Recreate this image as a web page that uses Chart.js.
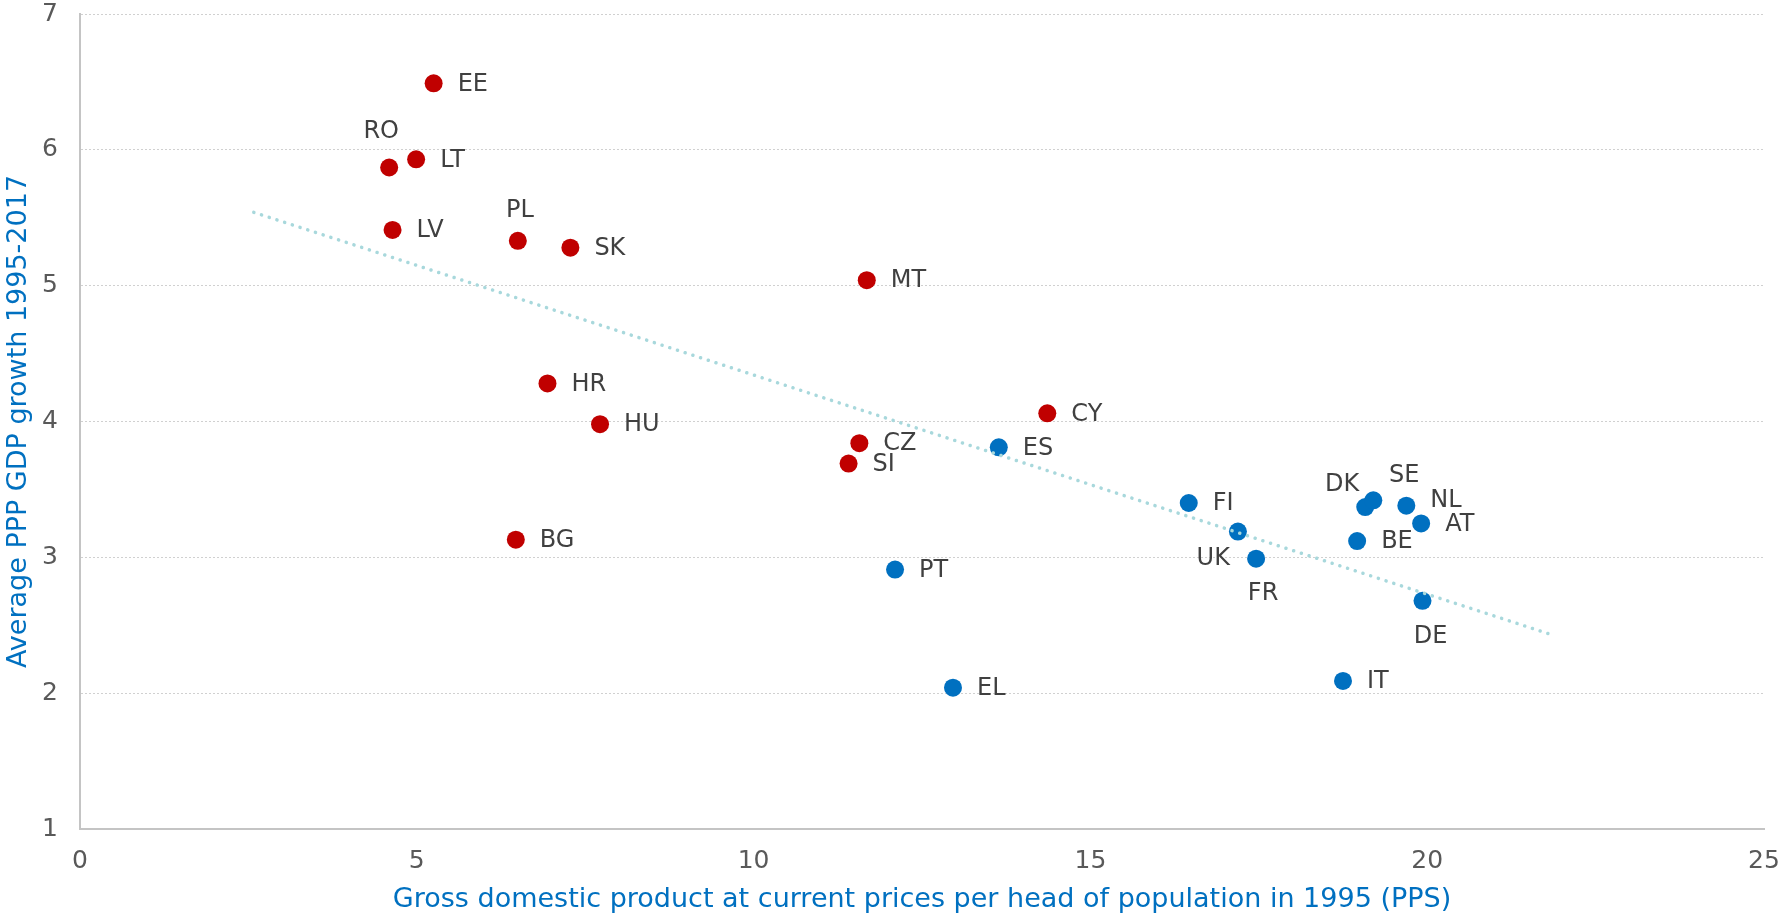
<!DOCTYPE html>
<html>
<head>
<meta charset="utf-8">
<script src="https://cdn.jsdelivr.net/npm/chart.js@4.4.1/dist/chart.umd.min.js"></script>
<style>
  html, body { margin: 0; padding: 0; background: #fff; }
  #wrap { width: 1781px; height: 918px; position: relative; }
</style>
</head>
<body>
<div id="wrap"><canvas id="chart"></canvas></div>
<script>
// 1995 GDP per head (PPS, thousands) vs average PPP GDP growth 1995-2017
const redCodes = ['EE', 'RO', 'LT', 'LV', 'PL', 'SK', 'MT', 'HR', 'HU', 'CZ', 'SI', 'BG', 'CY'];
const redX = [5.25, 4.59, 4.99, 4.64, 6.50, 7.28, 11.68, 6.94, 7.72, 11.57, 11.41, 6.47, 14.36];
const redY = [6.49, 5.87, 5.93, 5.41, 5.33, 5.28, 5.04, 4.28, 3.98, 3.84, 3.69, 3.13, 4.06];

const blueCodes = ['ES', 'PT', 'EL', 'FI', 'UK', 'FR', 'DK', 'SE', 'NL', 'AT', 'BE', 'DE', 'IT'];
const blueX = [13.64, 12.10, 12.96, 16.46, 17.19, 17.46, 19.08, 19.20, 19.69, 19.91, 18.96, 19.93, 18.75];
const blueY = [3.81, 2.91, 2.04, 3.40, 3.19, 2.99, 3.37, 3.42, 3.38, 3.25, 3.12, 2.68, 2.09];

// linear trend line end points
const trendX = [2.58, 21.85];
const trendY = [5.54, 2.43];

const xTitle = 'Gross domestic product at current prices per head of population in 1995 (PPS)';
const yTitle = 'Average PPP GDP growth 1995-2017';

// label placement: [dx, dy, align], default is right of the point
const defaultPlace = [24, 1, 'left'];
const labelPlace = {
    RO: [-8, -36, 'center'],
    PL: [2, -30, 'center'],
    UK: [-8, 27, 'right'],
    FR: [7, 35, 'center'],
    DK: [-23, -22, 'center'],
    SE: [31, -25, 'center'],
    NL: [24, -5, 'left'],
    DE: [8, 36, 'center']
};

const FONT = '"DejaVu Sans", Verdana, sans-serif';

function toPoints(xs, ys) {
    return xs.map((x, i) => ({ x: x, y: ys[i] }));
}

const pointLabels = {
    id: 'pointLabels',
    afterDatasetsDraw(chart) {
        const ctx = chart.ctx;
        ctx.save();
        ctx.font = '24px ' + FONT;
        ctx.fillStyle = '#404040';
        ctx.textBaseline = 'middle';
        chart.data.datasets.forEach((ds, i) => {
            if (!ds.codes) return;
            const meta = chart.getDatasetMeta(i);
            meta.data.forEach((pt, j) => {
                const code = ds.codes[j];
                const p = labelPlace[code] || defaultPlace;
                ctx.textAlign = p[2];
                ctx.fillText(code, pt.x + p[0], pt.y + p[1]);
            });
        });
        ctx.restore();
    }
};

const ctx = document.getElementById('chart').getContext('2d');
new Chart(ctx, {
    type: 'scatter',
    data: {
        datasets: [
            {
                label: 'Trend',
                type: 'line',
                data: toPoints(trendX, trendY),
                borderColor: '#a8d8dc',
                borderWidth: 3.5,
                borderDash: [0.1, 8],
                borderCapStyle: 'round',
                pointRadius: 0,
                fill: false,
                order: 0
            },
            {
                label: 'New',
                codes: redCodes,
                data: toPoints(redX, redY),
                backgroundColor: '#c00000',
                borderWidth: 0,
                pointRadius: 9,
                order: 1
            },
            {
                label: 'Old',
                codes: blueCodes,
                data: toPoints(blueX, blueY),
                backgroundColor: '#0070c0',
                borderWidth: 0,
                pointRadius: 9,
                order: 1
            }
        ]
    },
    options: {
        responsive: true,
        maintainAspectRatio: false,
        animation: false,
        layout: { padding: 0 },
        scales: {
            x: {
                type: 'linear',
                min: 0,
                max: 25,
                ticks: { stepSize: 5, color: '#595959', font: { family: FONT, size: 25 }, padding: 17 },
                grid: { drawOnChartArea: false, drawTicks: false },
                border: { display: true, color: '#c4c4c4', width: 2 },
                title: {
                    display: true,
                    text: xTitle,
                    color: '#0070c0',
                    font: { family: FONT, size: 27 },
                    padding: { top: 2, bottom: 2 }
                },
                afterFit(scale) {
                    scale.height = 89;
                    scale.paddingRight = 17;
                    scale.paddingLeft = 0;
                }
            },
            y: {
                min: 1,
                max: 7,
                ticks: { stepSize: 1, color: '#595959', font: { family: FONT, size: 25 }, padding: 22 },
                grid: { color: '#d0d0d0', lineWidth: 1, drawTicks: false },
                border: { display: true, color: '#c4c4c4', width: 2, dash: [2, 2] },
                title: {
                    display: true,
                    text: yTitle,
                    color: '#0070c0',
                    font: { family: FONT, size: 27 },
                    padding: { top: 3, bottom: 1 }
                },
                afterFit(scale) {
                    scale.width = 80;
                    scale.paddingTop = 14;
                    scale.paddingBottom = 0;
                }
            }
        },
        plugins: {
            legend: { display: false },
            tooltip: { enabled: false }
        }
    },
    plugins: [pointLabels]
});
</script>
</body>
</html>
